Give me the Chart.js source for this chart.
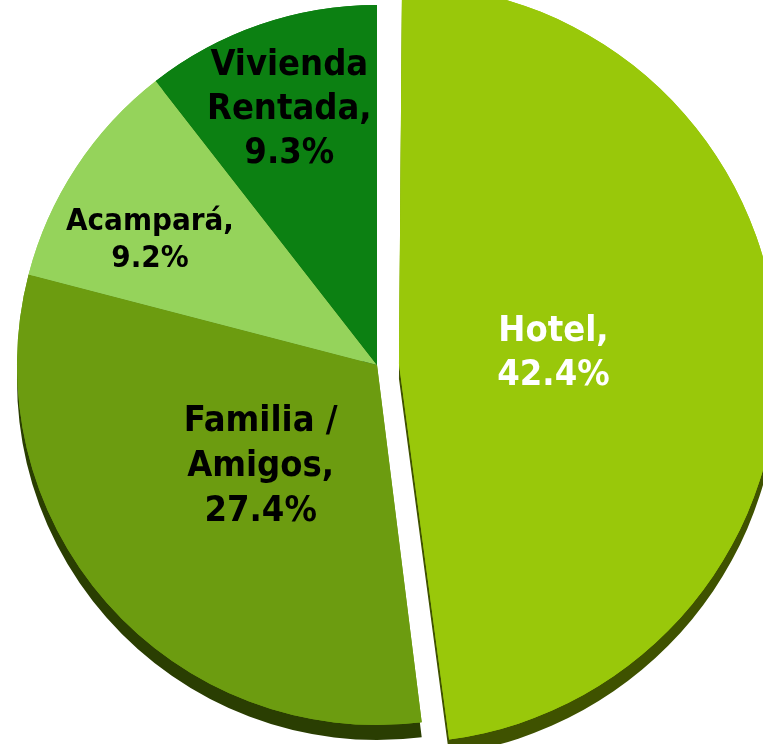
<!DOCTYPE html>
<html>
<head>
<meta charset="utf-8">
<script src="https://cdn.jsdelivr.net/npm/chart.js@4.4.0/dist/chart.umd.min.js"></script>
<style>
  html, body { margin: 0; padding: 0; background: #fff; }
  #wrap { width: 763px; height: 744px; }
</style>
</head>
<body>
<div id="wrap"><canvas id="pie"></canvas></div>
<script>
const categorias = ['Hotel', 'Familia / Amigos', 'Acampará', 'Vivienda Rentada'];
const porcentajes = [42.4, 27.4, 9.2, 9.3];
const etiquetas = [['Hotel,', '42.4%'], ['Familia /', 'Amigos,', '27.4%'], ['Acampará,', '9.2%'], ['Vivienda', 'Rentada,', '9.3%']];

const colores = ['#99c80a', '#6c9c10', '#95d35b', '#0c8012'];
const coloresLado = ['#3f5200', '#2a3e02', '#4e7030', '#003800'];
const coloresTexto = ['#ffffff', '#000000', '#000000', '#000000'];
const tamTexto = [36, 36, 31, 36];
const altoLinea = [44, 45, 37, 44];
const radioTexto = [0.43, 0.43, 0.72, 0.75];
const giroTexto = [0, 0, -4.5, 0]; // grados
const separacion = 22;

// cara lateral "3D": se dibuja cada arco con sombra sólida debajo
const lado3d = {
  id: 'lado3d',
  beforeDatasetsDraw(chart) {
    const ctx = chart.ctx;
    const meta = chart.getDatasetMeta(0);
    meta.data.forEach((arc, i) => {
      ctx.save();
      ctx.shadowColor = coloresLado[i];
      ctx.shadowOffsetY = 15;
      ctx.shadowBlur = 0;
      arc.draw(ctx);
      ctx.restore();
    });
  }
};

const etiquetasPlugin = {
  id: 'etiquetasPie',
  afterDatasetsDraw(chart) {
    const ctx = chart.ctx;
    const meta = chart.getDatasetMeta(0);
    meta.data.forEach((arc, i) => {
      const p = arc.getProps(['x', 'y', 'startAngle', 'endAngle', 'outerRadius']);
      const mid = (p.startAngle + p.endAngle) / 2;
      const ang = mid + giroTexto[i] * Math.PI / 180;
      const off = i === 0 ? separacion : 0;
      const cx = p.x + Math.cos(mid) * off + Math.cos(ang) * p.outerRadius * radioTexto[i];
      const cy = p.y + Math.sin(mid) * off + Math.sin(ang) * p.outerRadius * radioTexto[i];
      const lineas = etiquetas[i];
      ctx.save();
      ctx.font = 'bold ' + tamTexto[i] + 'px "DejaVu Sans Condensed"';
      ctx.fillStyle = coloresTexto[i];
      ctx.textAlign = 'center';
      ctx.textBaseline = 'middle';
      const h = altoLinea[i];
      lineas.forEach((t, k) => {
        ctx.fillText(t, cx, cy + (k - (lineas.length - 1) / 2) * h);
      });
      ctx.restore();
    });
  }
};

new Chart(document.getElementById('pie').getContext('2d'), {
  type: 'pie',
  data: {
    labels: categorias,
    datasets: [{
      data: porcentajes,
      backgroundColor: colores,
      borderWidth: 0,
      // Chart.js v4 divide el offset entre 4 al dibujar
      offset: [separacion * 4, 0, 0, 0]
    }]
  },
  options: {
    responsive: true,
    maintainAspectRatio: false,
    animation: false,
    radius: 360,
    layout: { padding: { left: 0, right: 9, top: 0, bottom: 14 } },
    plugins: {
      legend: { display: false },
      tooltip: { enabled: false }
    }
  },
  plugins: [lado3d, etiquetasPlugin]
});
</script>
</body>
</html>
